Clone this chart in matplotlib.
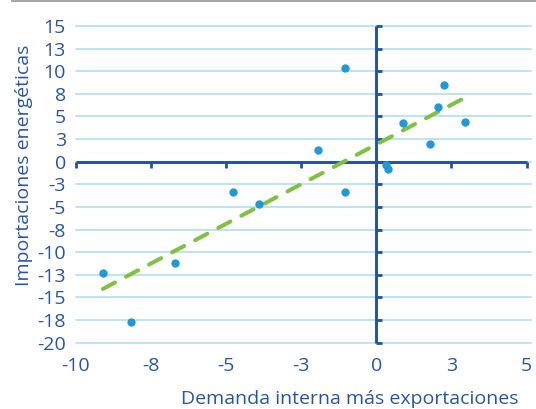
import numpy as np
import matplotlib
matplotlib.use("Agg")
import matplotlib.pyplot as plt
from matplotlib.lines import Line2D

# Scatter data: domestic demand plus exports vs. energy imports
demanda = [-1.05, 2.25, 2.06, 0.89, 2.95, 1.78, -1.94, 0.31, 0.40,
           -1.05, -4.78, -3.89, -6.68, -9.09, -8.16]
importaciones = [10.39, 8.46, 6.03, 4.23, 4.38, 1.95, 1.28, -0.37, -0.78,
                 -3.32, -3.32, -4.72, -11.24, -12.30, -17.72]

x_ticks = [-10, -7.5, -5, -2.5, 0, 2.5, 5]
x_tick_labels = ["-10", "-8", "-5", "-3", "0", "3", "5"]
y_ticks = [15, 12.5, 10, 7.5, 5, 2.5, 0, -2.5, -5, -7.5, -10, -12.5, -15, -17.5, -20]
y_tick_labels = ["15", "13", "10", "8", "5", "3", "0", "-3", "-5", "-8",
                 "-10", "-13", "-15", "-18", "-20"]

TEXT = "#2855a3"
AXIS = "#2152a3"
GRID = "#a9dcf2"
POINT = "#2198d8"
TREND = "#7fc241"

plt.rcParams["font.family"] = ["Open Sans", "DejaVu Sans"]

fig = plt.figure(figsize=(5.36, 4.09), dpi=100)
ax = fig.add_axes([0.1409, 0.1577, 0.991 - 0.1409, 0.9408 - 0.1577])

ax.set_xlim(-10, 5.15)
ax.set_ylim(-20.2, 15.2)

for s in ax.spines.values():
    s.set_visible(False)

# horizontal gridlines
for yv in y_ticks:
    ax.plot([-10, 5.15], [yv, yv], color=GRID, lw=1.1, zorder=1, clip_on=False)

# crossing axes through the origin
ax.plot([-10, 5], [0, 0], color=AXIS, lw=2.1, zorder=3, solid_capstyle="butt")
ax.plot([0, 0], [-20, 15], color=AXIS, lw=2.1, zorder=3, solid_capstyle="butt")
ax.plot(x_ticks, np.zeros(len(x_ticks)), linestyle="", marker=3,
        markersize=4, mew=2.0, color=AXIS, zorder=3, clip_on=False)
ax.plot(np.zeros(len(y_ticks)), y_ticks, linestyle="", marker=1,
        markersize=4, mew=2.0, color=AXIS, zorder=3, clip_on=False)

# linear trend
xs = np.array(demanda)
ys = np.array(importaciones)
slope, intercept = np.polyfit(xs, ys, 1)
tx = np.array([xs.min(), xs.max()])
line, = ax.plot(tx, slope * tx + intercept, color=TREND, lw=2.9, zorder=4,
                solid_capstyle="round", dash_capstyle="round")
line.set_dashes((3.4, 3.08))

ax.scatter(demanda, importaciones, s=36, color=POINT, zorder=5, linewidths=0)

ax.set_xticks(x_ticks)
ax.set_xticklabels(x_tick_labels)
ax.set_yticks(y_ticks)
ax.set_yticklabels(y_tick_labels)
ax.tick_params(axis="both", length=0, labelsize=14, labelcolor=TEXT)
ax.tick_params(axis="y", pad=7)
ax.tick_params(axis="x", pad=9)

fig.text(24.5 / 536, 1 - 165 / 409, "Importaciones energéticas", rotation=90,
         ha="center", va="center", fontsize=14, color=TEXT)
fig.text(350 / 536, 1 - 399 / 409, "Demanda interna más exportaciones",
         ha="center", va="center", fontsize=14, color=TEXT)

# thin rule along the top edge
fig.add_artist(Line2D([12 / 536, 1], [1 - 0.8 / 409, 1 - 0.8 / 409],
                      color="#a6a6a6", lw=1.4, transform=fig.transFigure))

fig.savefig("out.png", dpi=100)
